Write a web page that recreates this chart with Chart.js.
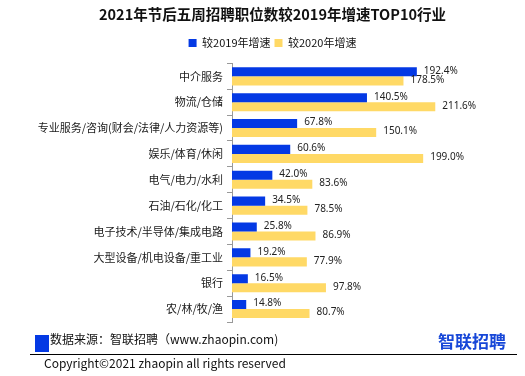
<!DOCTYPE html>
<html>
<head>
<meta charset="utf-8">
<script src="https://cdn.jsdelivr.net/npm/chart.js@4"></script>
<style>
  html, body { margin: 0; padding: 0; background: #fff; }
  #wrap { width: 525px; height: 376px; position: relative; }
</style>
</head>
<body>
<div id="wrap"><canvas id="barChart" width="525" height="376"></canvas></div>
<script>
// Chart data
const industries = ["中介服务", "物流/仓储", "专业服务/咨询(财会/法律/人力资源等)", "娱乐/体育/休闲", "电气/电力/水利",
    "石油/石化/化工", "电子技术/半导体/集成电路", "大型设备/机电设备/重工业", "银行", "农/林/牧/渔"];
const growthVs2019 = [192.4, 140.5, 67.8, 60.6, 42.0, 34.5, 25.8, 19.2, 16.5, 14.8];
const growthVs2020 = [178.5, 211.6, 150.1, 199.0, 83.6, 78.5, 86.9, 77.9, 97.8, 80.7];
const seriesNames = ["较2019年增速", "较2020年增速"];

const BLUE = "#0439e4";
const YELLOW = "#ffd966";
const CJK = "'Noto Sans CJK SC', 'Noto Sans', sans-serif";

// value labels at the end of each bar
const valueLabels = {
    id: "valueLabels",
    afterDatasetsDraw(chart) {
        const ctx = chart.ctx;
        ctx.save();
        ctx.font = "10px 'Noto Sans', sans-serif";
        ctx.fillStyle = "#222";
        ctx.textBaseline = "middle";
        chart.data.datasets.forEach((ds, i) => {
            chart.getDatasetMeta(i).data.forEach((bar, j) => {
                ctx.fillText(ds.data[j].toFixed(1) + "%", bar.x + 7, bar.y - 1);
            });
        });
        ctx.restore();
    }
};

// source note, copyright and logo under the chart
const footer = {
    id: "footer",
    afterDraw(chart) {
        const ctx = chart.ctx;
        ctx.save();
        ctx.fillStyle = BLUE;
        ctx.fillRect(35, 335, 14, 17);
        ctx.fillStyle = "#111";
        ctx.textBaseline = "middle";
        ctx.font = "12px " + CJK;
        ctx.fillText("数据来源：智联招聘（www.zhaopin.com)", 50, 339);
        ctx.fillText("Copyright©2021 zhaopin all rights reserved", 44, 363);
        ctx.strokeStyle = "#000";
        ctx.lineWidth = 1;
        ctx.beginPath();
        ctx.moveTo(30, 354.5);
        ctx.lineTo(517, 354.5);
        ctx.stroke();
        ctx.fillStyle = "#1747d8";
        ctx.font = "bold 17px " + CJK;
        ctx.fillText("智联招聘", 438, 342);
        ctx.restore();
    }
};

// extra room below the legend
const legendGap = {
    id: "legendGap",
    beforeInit(chart) {
        const fit = chart.legend.fit;
        chart.legend.fit = function () {
            fit.bind(chart.legend)();
            this.height += 5;
        };
    }
};

new Chart(document.getElementById("barChart"), {
    type: "bar",
    data: {
        labels: industries,
        datasets: [
            { label: seriesNames[0], data: growthVs2019, backgroundColor: BLUE },
            { label: seriesNames[1], data: growthVs2020, backgroundColor: YELLOW }
        ]
    },
    options: {
        indexAxis: "y",
        responsive: false,
        animation: false,
        categoryPercentage: 0.7,
        barPercentage: 1,
        layout: { padding: { left: 20, right: 0, bottom: 54, top: 0 } },
        scales: {
            x: { display: false, min: 0, max: 305 },
            y: {
                afterFit: s => { s.width = 212; },
                grid: { drawOnChartArea: false, tickLength: 5, color: "#999" },
                border: { color: "#999" },
                ticks: { padding: 4, color: "#1a1a1a", font: { family: CJK, size: 11 } }
            }
        },
        plugins: {
            title: {
                display: true,
                text: "2021年节后五周招聘职位数较2019年增速TOP10行业",
                color: "#111",
                font: { family: CJK, size: 14.5, weight: "bold" },
                padding: { top: 6, bottom: 10 }
            },
            legend: {
                labels: { boxWidth: 8, boxHeight: 8, padding: 4, color: "#111", font: { family: CJK, size: 11 } }
            },
            tooltip: { enabled: false }
        }
    },
    plugins: [valueLabels, footer, legendGap]
});
</script>
</body>
</html>
